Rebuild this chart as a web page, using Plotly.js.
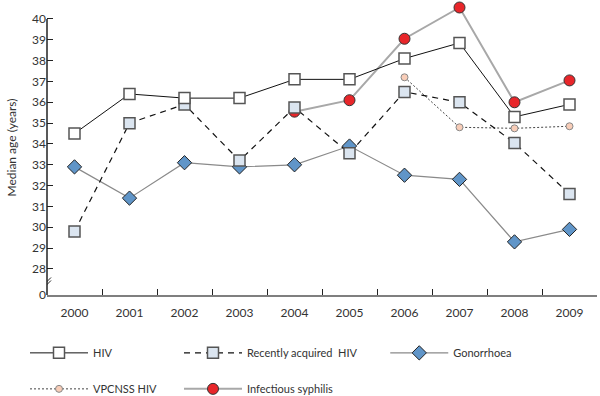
<!DOCTYPE html>
<html>
<head>
<meta charset="utf-8">
<script src="https://cdn.plot.ly/plotly-3.0.1.min.js"></script>
<style>html,body{margin:0;padding:0;background:#fff;}#chart{width:600px;height:396px;}</style>
</head>
<body>
<div id="chart"></div>
<script>
const years = ["2000","2001","2002","2003","2004","2005","2006","2007","2008","2009"];
const hiv = [34.5, 36.4, 36.2, 36.2, 37.1, 37.1, 38.1, 38.85, 35.3, 35.9];
const recentHiv = [29.8, 35.0, 35.9, 33.2, 35.75, 33.55, 36.5, 36.0, 34.05, 31.6];
const gonorrhoea = [32.9, 31.4, 33.1, 32.9, 33.0, 33.9, 32.5, 32.3, 29.3, 29.9];
const vpcnssYears = ["2006","2007","2008","2009"];
const vpcnss = [37.2, 34.8, 34.75, 34.85];
const syphYears = ["2004","2005","2006","2007","2008","2009"];
const syphilis = [35.55, 36.1, 39.05, 40.55, 36.0, 37.05];
const yTickVals = [26.75, 28, 29, 30, 31, 32, 33, 34, 35, 36, 37, 38, 39, 40];
const yTickText = ["0", "28", "29", "30", "31", "32", "33", "34", "35", "36", "37", "38", "39", "40"];

const font = "Lato, 'Open Sans', sans-serif";
const traces = [
  {x: years, y: gonorrhoea, name: "Gonorrhoea", type: "scatter", mode: "lines+markers",
   line: {color: "#8a8a8a", width: 1.2},
   marker: {symbol: "diamond", size: 11, color: "#6095c8", line: {color: "#222", width: 1}},
   legend: "legend3", legendrank: 1},
  {x: syphYears, y: syphilis, name: "Infectious syphilis", type: "scatter", mode: "lines+markers",
   line: {color: "#a8a8a8", width: 2},
   marker: {symbol: "circle", size: 11, color: "#e8262a", line: {color: "#333", width: 1}},
   legend: "legend2", legendrank: 2, legendgroup: "s"},
  {x: vpcnssYears, y: vpcnss, name: "VPCNSS HIV", type: "scatter", mode: "lines+markers",
   line: {color: "#444", width: 1, dash: "2px,2px"},
   marker: {symbol: "circle", size: 7, color: "#f8cdb8", line: {color: "#888", width: 1}},
   legend: "legend", legendrank: 2, legendgroup: "v"},
  {x: years, y: recentHiv, name: "Recently acquired  HIV", type: "scatter", mode: "lines+markers",
   line: {color: "#111", width: 1.2, dash: "6px,5px"},
   marker: {symbol: "square", size: 11, color: "#dbe5f0", line: {color: "#555", width: 1.5}},
   legend: "legend2", legendrank: 1, legendgroup: "r"},
  {x: years, y: hiv, name: "HIV", type: "scatter", mode: "lines+markers",
   line: {color: "#111", width: 1},
   marker: {symbol: "square", size: 11, color: "#ffffff", line: {color: "#555", width: 1.5}},
   legend: "legend", legendrank: 1, legendgroup: "h"}
];

const legendBase = {
  orientation: "v", traceorder: "grouped", tracegroupgap: 17, itemwidth: 58,
  font: {family: font, size: 11, color: "#333"}, bgcolor: "rgba(0,0,0,0)",
  yanchor: "top", xanchor: "left", y: -0.147
};

const layout = {
  width: 600, height: 396,
  margin: {l: 47, r: 3, t: 0, b: 101, autoexpand: false},
  paper_bgcolor: "#fff", plot_bgcolor: "#fff",
  font: {family: font, size: 12, color: "#333"},
  xaxis: {type: "category", range: [-0.5, 9.5], tickson: "boundaries", ticks: "inside",
          ticklen: 6, tickcolor: "#222", tickwidth: 1, showgrid: false, zeroline: false,
          showline: true, linecolor: "#7f7f7f", linewidth: 2, ticklabelstandoff: 6,
          tickfont: {family: font, size: 12, color: "#333"}},
  yaxis: {range: [26.75, 40.91], tickvals: yTickVals, ticktext: yTickText, ticks: "inside",
          ticklen: 6, tickcolor: "#222", tickwidth: 1, showgrid: false, zeroline: false,
          showline: false, tickfont: {family: font, size: 12, color: "#333"},
          title: {text: "Median age (years)", font: {family: font, size: 12, color: "#333"}, standoff: 12}},
  showlegend: true,
  legend: Object.assign({}, legendBase, {x: -0.04}),
  legend2: Object.assign({}, legendBase, {x: 0.24}),
  legend3: Object.assign({}, legendBase, {x: 0.615}),
  shapes: [
    {type: "line", xref: "paper", yref: "y", x0: 0, x1: 0, y0: 26.75, y1: 40, line: {color: "#222", width: 1.5}},
    {type: "line", xref: "x", yref: "y", xsizemode: "pixel", ysizemode: "pixel", xanchor: -0.5, yanchor: 27.35,
     x0: -5, x1: 4, y0: -4, y1: 5, line: {color: "#222", width: 1}},
    {type: "line", xref: "x", yref: "y", xsizemode: "pixel", ysizemode: "pixel", xanchor: -0.5, yanchor: 27.35,
     x0: -5, x1: 4, y0: -7, y1: 2, line: {color: "#222", width: 1}}
  ]
};

Plotly.newPlot("chart", traces, layout, {displayModeBar: false, staticPlot: true});
</script>
</body>
</html>
